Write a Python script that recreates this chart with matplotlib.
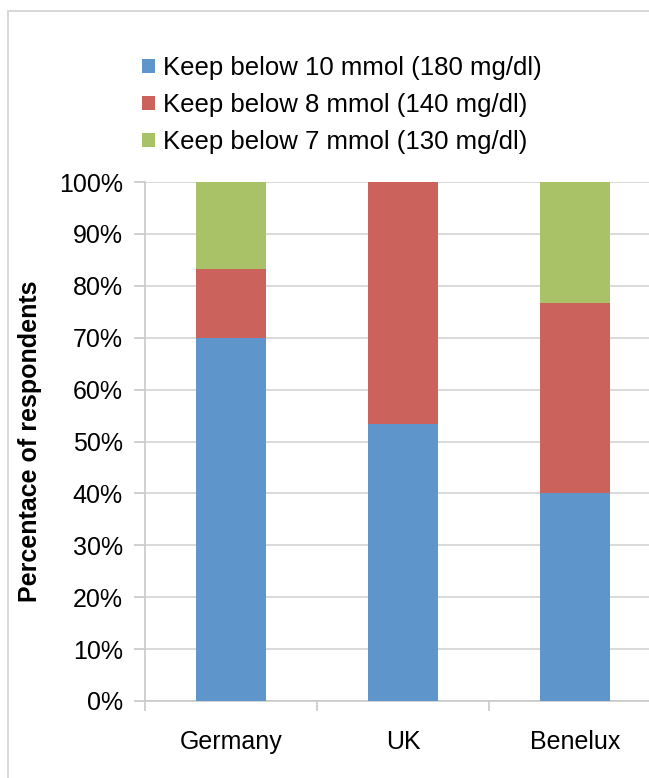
import matplotlib

matplotlib.use("Agg")
import matplotlib.pyplot as plt
from matplotlib.patches import Rectangle
from matplotlib.ticker import PercentFormatter

plt.rcParams["font.family"] = ["Liberation Sans", "DejaVu Sans"]

countries = ["Germany", "UK", "Benelux"]
below_10 = [70.0, 53.3, 40.0]
below_8 = [13.3, 46.7, 36.7]
below_7 = [16.7, 0.0, 23.3]
labels = ["Keep below 10 mmol (180 mg/dl)",
          "Keep below 8 mmol (140 mg/dl)",
          "Keep below 7 mmol (130 mg/dl)"]
colors = ["#5e95cb", "#cb635c", "#a9c268"]

W, H = 649, 778
fig = plt.figure(figsize=(W / 100, H / 100), dpi=100)

# light frame around the chart (only top and left show)
fig.patches.append(Rectangle((8 / W, -0.1), 1.2, 1 - 11 / H + 0.1,
                             transform=fig.transFigure, fill=False,
                             ec="#d2d2d2", lw=1.2))

ax = fig.add_axes([145 / W, 1 - 701 / H, 516 / W, 519 / H])
x = range(len(countries))
w = 0.41
bottom2 = [a + b for a, b in zip(below_10, below_8)]
ax.bar(x, below_10, w, color=colors[0], label=labels[0], zorder=3)
ax.bar(x, below_8, w, bottom=below_10, color=colors[1], label=labels[1], zorder=3)
ax.bar(x, below_7, w, bottom=bottom2, color=colors[2], label=labels[2], zorder=3)

ax.set_xlim(-0.5, 2.5)
ax.set_ylim(0, 100)
ax.set_yticks(range(0, 101, 10))
ax.yaxis.set_major_formatter(PercentFormatter(decimals=0))
ax.set_xticks([-0.5, 0.5, 1.5, 2.5], minor=False)
ax.set_xticklabels([])
ax.set_xticks(list(x), minor=True)
ax.set_xticklabels(countries, minor=True)
ax.tick_params(axis="x", which="minor", length=0, pad=21, labelsize=18)
ax.tick_params(axis="x", which="major", length=7, width=1.2, color="#c8c8c8")
ax.tick_params(axis="y", length=8, width=1.2, color="#c8c8c8", pad=8, labelsize=18)
ax.grid(axis="y", color="#d9d9d9", lw=1.4, zorder=0)
for s in ("top", "right"):
    ax.spines[s].set_visible(False)
for s in ("left", "bottom"):
    ax.spines[s].set_color("#c8c8c8")
    ax.spines[s].set_linewidth(1.2)
ax.set_ylabel("Percentace of respondents", fontsize=18, fontweight="bold", labelpad=12)

ax.legend(loc="upper left", bbox_to_anchor=(132 / W, 1 - 46 / H),
          bbox_transform=fig.transFigure, frameon=False, fontsize=18.5,
          handlelength=0.5, handleheight=0.5, handletextpad=0.3,
          labelspacing=0.5, borderaxespad=0)

fig.savefig("out.png", dpi=100)
